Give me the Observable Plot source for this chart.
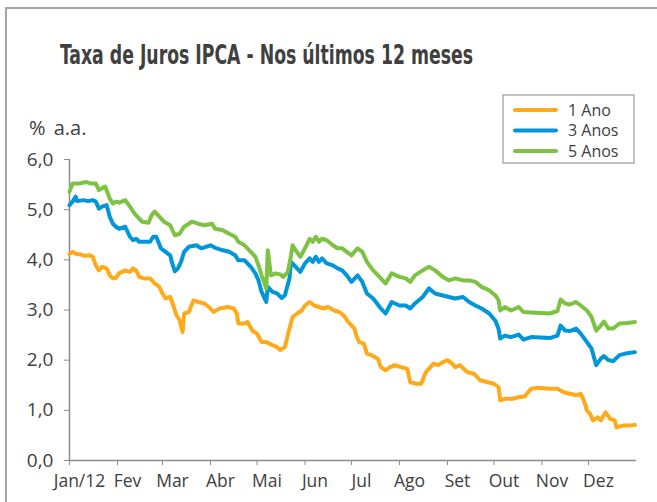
<!DOCTYPE html>
<html><head><meta charset="utf-8">
<script src="https://cdn.jsdelivr.net/npm/d3@7"></script>
<script src="https://cdn.jsdelivr.net/npm/@observablehq/plot@0.6"></script>
<style>
html,body{margin:0;padding:0;background:#fff;}
#wrap{position:relative;width:657px;height:502px;overflow:hidden;}
#frame{position:absolute;left:5px;top:7px;width:700px;height:600px;border:2px solid #a6a6a6;box-sizing:border-box;}
#wrap svg{position:absolute;left:0;top:0;}
</style></head>
<body><div id="wrap"><div id="frame"></div></div>
<script>
const title = "Taxa de Juros IPCA - Nos últimos 12 meses";
const yLabel = "% a.a.";
const monthLabels = ["Jan/12","Fev","Mar","Abr","Mai","Jun","Jul","Ago","Set","Out","Nov","Dez"];
const seriesNames = ["1 Ano","3 Anos","5 Anos"];
const seriesColors = ["#FFAA1B","#0096D9","#7DC242"];
const yTicks = [0,1,2,3,4,5,6];

// [day of year 2012 (0 = 1 Jan), rate % a.a.]
const ano1 = [[0,4.12],[2,4.16],[4,4.12],[8,4.10],[10,4.08],[13,4.09],[15,4.06],[17,3.89],[19,3.79],[21,3.86],[24,3.83],[26,3.69],[28,3.63],[30,3.64],[32,3.73],[36,3.79],[39,3.76],[41,3.83],[43,3.79],[45,3.66],[48,3.63],[52,3.63],[55,3.53],[58,3.46],[60,3.33],[62,3.23],[65,3.26],[67,3.09],[69,2.90],[71,2.80],[73,2.56],[74,2.93],[77,2.96],[80,3.19],[83,3.16],[87,3.13],[90,3.06],[93,2.96],[97,3.03],[102,3.06],[106,3.03],[108,2.93],[109,2.73],[113,2.73],[115,2.76],[118,2.59],[121,2.53],[124,2.36],[127,2.36],[131,2.30],[134,2.26],[136,2.20],[139,2.26],[142,2.63],[144,2.86],[147,2.93],[150,2.99],[152,3.09],[155,3.16],[158,3.09],[161,3.06],[164,3.03],[167,3.06],[171,2.99],[174,2.96],[177,2.89],[180,2.76],[184,2.63],[185,2.50],[187,2.36],[190,2.33],[192,2.13],[195,2.10],[199,2.03],[201,1.86],[204,1.80],[207,1.86],[210,1.90],[214,1.86],[218,1.83],[220,1.56],[224,1.53],[227,1.53],[230,1.76],[233,1.86],[235,1.93],[238,1.90],[241,1.96],[244,2.00],[247,1.93],[249,1.86],[252,1.90],[257,1.76],[261,1.73],[265,1.60],[270,1.56],[274,1.53],[277,1.46],[278,1.20],[281,1.23],[286,1.23],[290,1.26],[294,1.28],[298,1.43],[302,1.45],[306,1.44],[310,1.43],[315,1.43],[319,1.36],[323,1.33],[327,1.30],[330,1.33],[332,1.20],[334,1.00],[336,0.93],[338,0.80],[341,0.86],[343,0.80],[346,0.96],[349,0.83],[352,0.80],[353,0.66],[358,0.70],[362,0.70],[365,0.71]];
const ano3 = [[0,5.09],[2,5.16],[4,5.26],[5,5.17],[9,5.19],[12,5.17],[15,5.19],[17,5.16],[19,5.02],[21,5.06],[24,5.09],[26,4.86],[28,4.72],[30,4.66],[32,4.62],[36,4.66],[39,4.46],[41,4.39],[43,4.42],[45,4.36],[48,4.36],[52,4.36],[54,4.46],[56,4.46],[59,4.23],[62,4.16],[65,4.09],[66,3.96],[68,3.77],[70,3.83],[72,3.96],[74,4.16],[77,4.26],[82,4.29],[85,4.23],[88,4.26],[91,4.29],[94,4.24],[99,4.19],[103,4.16],[107,4.09],[109,3.99],[113,3.99],[117,3.86],[120,3.73],[122,3.59],[124,3.36],[127,3.16],[128,3.46],[131,3.36],[134,3.33],[137,3.24],[139,3.29],[142,3.63],[143,3.96],[146,3.86],[149,3.76],[152,3.93],[155,4.03],[157,3.96],[159,4.06],[161,3.96],[163,4.03],[166,3.93],[170,3.89],[173,3.83],[176,3.79],[179,3.69],[182,3.56],[186,3.69],[189,3.56],[192,3.33],[196,3.23],[201,3.03],[204,2.93],[208,3.16],[213,3.09],[217,3.09],[220,3.03],[223,3.13],[228,3.26],[232,3.43],[236,3.33],[241,3.29],[245,3.26],[249,3.23],[254,3.26],[258,3.16],[262,3.09],[266,3.03],[271,2.93],[275,2.78],[277,2.62],[278,2.43],[281,2.49],[285,2.46],[290,2.51],[293,2.41],[298,2.46],[304,2.45],[310,2.44],[315,2.49],[317,2.69],[320,2.59],[323,2.58],[327,2.63],[330,2.53],[334,2.36],[337,2.23],[340,1.90],[343,2.03],[345,2.08],[348,2.00],[351,1.98],[355,2.10],[360,2.14],[365,2.16]];
const ano5 = [[0,5.36],[2,5.52],[4,5.52],[6,5.52],[11,5.55],[14,5.52],[17,5.52],[19,5.39],[23,5.46],[26,5.22],[28,5.12],[30,5.16],[32,5.14],[36,5.19],[39,5.06],[42,4.92],[45,4.82],[47,4.76],[51,4.74],[53,4.89],[55,4.96],[58,4.86],[61,4.76],[65,4.69],[68,4.49],[71,4.52],[74,4.66],[79,4.76],[83,4.72],[87,4.69],[92,4.72],[94,4.62],[99,4.59],[103,4.52],[107,4.46],[109,4.36],[113,4.29],[117,4.16],[120,4.06],[122,3.89],[124,3.69],[127,3.43],[128,4.19],[130,3.69],[133,3.73],[136,3.71],[138,3.66],[141,3.76],[143,4.09],[144,4.29],[146,4.19],[149,4.06],[152,4.23],[155,4.42],[157,4.36],[159,4.46],[161,4.36],[163,4.42],[166,4.39],[170,4.29],[173,4.23],[176,4.23],[179,4.16],[182,4.09],[186,4.23],[189,4.16],[192,3.96],[196,3.79],[201,3.63],[204,3.53],[208,3.73],[213,3.66],[217,3.63],[220,3.56],[223,3.69],[228,3.79],[232,3.86],[236,3.79],[241,3.66],[245,3.59],[249,3.63],[254,3.59],[258,3.59],[262,3.56],[266,3.46],[271,3.39],[275,3.29],[277,3.19],[278,2.99],[281,3.06],[285,2.99],[290,3.06],[293,2.96],[298,2.95],[304,2.94],[310,2.93],[315,2.98],[317,3.21],[320,3.13],[323,3.11],[327,3.16],[330,3.09],[334,2.99],[337,2.86],[340,2.59],[343,2.69],[345,2.77],[348,2.63],[351,2.63],[355,2.73],[360,2.74],[365,2.76]];

const start = new Date(2012,0,1);
const end = new Date(2013,0,1);
const monthStarts = monthLabels.map((m,i) => new Date(2012,i,1));
const rows = (arr) => arr.map(([d,v]) => ({date: d3.timeDay.offset(start, d), value: v}));
const fmt = d => d.toFixed(1).replace(".", ",");
const axisColor = "#8c8c8c";
const textColor = "#404040";

const chart = Plot.plot({
  width: 657, height: 502,
  marginLeft: 69, marginRight: 21, marginTop: 159, marginBottom: 42,
  style: {fontFamily: "'Open Sans', sans-serif", fontSize: "19px", color: textColor, background: "transparent", overflow: "visible"},
  x: {type: "time", domain: [start, end]},
  y: {domain: [0, 6]},
  marks: [
    Plot.axisY({ticks: yTicks, tickFormat: fmt, tickSize: 5, tickPadding: 11, stroke: axisColor, fill: textColor, label: null, fontSize: 19}),
    Plot.axisX({ticks: monthStarts, tickSize: 5, tickFormat: () => "", stroke: axisColor, label: null}),
    Plot.text(monthStarts, {x: d => d, text: (d, i) => monthLabels[i], frameAnchor: "bottom", dy: 26, dx: 10, fontSize: 17.5, fill: textColor}),
    Plot.ruleX([start], {stroke: axisColor, strokeWidth: 1.5}),
    Plot.ruleY([0], {stroke: axisColor, strokeWidth: 1.5}),
    Plot.line(rows(ano1), {x: "date", y: "value", stroke: seriesColors[0], strokeWidth: 4}),
    Plot.line(rows(ano3), {x: "date", y: "value", stroke: seriesColors[1], strokeWidth: 4}),
    Plot.line(rows(ano5), {x: "date", y: "value", stroke: seriesColors[2], strokeWidth: 4})
  ]
});
document.getElementById("wrap").appendChild(chart);

const svg = d3.select(chart);
svg.append("text").attr("x", 60).attr("y", 64).attr("text-anchor", "start")
  .attr("textLength", 413).attr("lengthAdjust", "spacingAndGlyphs")
  .style("font-family", "'Liberation Sans Narrow','DejaVu Sans Condensed','Open Sans',sans-serif")
  .style("font-weight", "bold").style("font-size", "26px").attr("fill", textColor)
  .text(title);
svg.append("text").attr("x", 29).attr("y", 135).attr("text-anchor", "start")
  .style("font-family", "'Open Sans',sans-serif").style("font-size", "20px").attr("fill", textColor)
  .style("word-spacing", "3px")
  .text(yLabel);
const lg = svg.append("g").attr("text-anchor", "start");
lg.append("rect").attr("x", 503).attr("y", 95).attr("width", 131).attr("height", 68)
  .attr("fill", "#fff").attr("stroke", "#999").attr("stroke-width", 1.2);
seriesNames.forEach((n, i) => {
  const y = 110 + i * 20.5;
  lg.append("line").attr("x1", 515).attr("x2", 556).attr("y1", y).attr("y2", y)
    .attr("stroke", seriesColors[i]).attr("stroke-width", 4).attr("stroke-linecap", "round");
  lg.append("text").attr("x", 568).attr("y", y).attr("dy", "0.35em").attr("text-anchor", "start")
    .style("font-family", "'Open Sans',sans-serif").style("font-size", "16px").attr("fill", textColor)
    .text(n);
});
</script></body></html>
